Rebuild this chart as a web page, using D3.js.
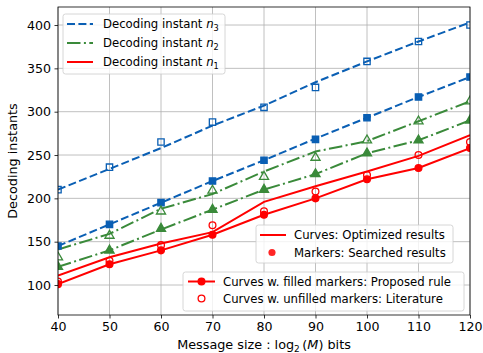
<!DOCTYPE html>
<html>
<head>
<meta charset="utf-8">
<script src="https://cdn.jsdelivr.net/npm/d3@7"></script>
<style>
  body { margin: 0; background: #fff; }
  text { font-family: "DejaVu Sans", sans-serif; fill: #000; }
</style>
</head>
<body>
<svg id="chart" width="483" height="353"></svg>
<script>
// message sizes (bits)
const msgSize = [40, 50, 60, 70, 80, 90, 100, 110, 120];

// n3
const n3PropCurve = [145, 170, 195, 220, 244, 269, 293, 317, 340];
const n3PropMark  = [145, 170, 195, 220, 244, 268, 293, 317, 340];
const n3LitCurve  = [210, 234, 258, 284, 307, 334, 358, 381, 403];
const n3LitMark   = [210, 236, 265, 288, 305, 328, 358, 381, 400];
// n2
const n2PropCurve = [121, 140, 164, 187, 210, 228, 252, 267, 290];
const n2PropMark  = [121, 140, 165, 187, 210, 228, 252, 267, 290];
const n2LitCurve  = [141, 159, 188, 205, 231, 254, 266, 289, 312];
const n2LitMark   = [132, 157, 185, 209, 225, 247, 267, 289, 312];
// n1
const n1PropCurve = [101, 124, 140, 158, 181, 200, 222, 235, 258];
const n1PropMark  = [101, 124, 140, 158, 181, 200, 222, 235, 258];
const n1LitCurve  = [111, 132, 148, 161, 196, 214, 231, 249, 273];
const n1LitMark   = [104, 128, 146, 169, 185, 208, 227, 250, 265];

const xTicks = [40, 50, 60, 70, 80, 90, 100, 110, 120];
const yTicks = [100, 150, 200, 250, 300, 350, 400];

const blue = "#0a5fb4", green = "#3a8a3a", red = "#ff0000";
const tickFont = 12.6, labelFont = 12.8, legFont = 11.7;

const svg = d3.select("#chart");
const pLeft = 58, pRight = 470, pTop = 7, pBottom = 315;

const x = d3.scaleLinear().domain([40, 120]).range([pLeft, pRight]);
const y = d3.scaleLinear().domain([65.4, 420.8]).range([pBottom, pTop]);

svg.append("defs").append("clipPath").attr("id", "plotclip")
   .append("rect").attr("x", pLeft).attr("y", pTop)
   .attr("width", pRight - pLeft).attr("height", pBottom - pTop);

// grid
const grid = svg.append("g");
grid.selectAll(".gx").data(xTicks).enter().append("line")
    .attr("x1", d => x(d)).attr("x2", d => x(d))
    .attr("y1", pTop).attr("y2", pBottom)
    .attr("stroke", "#b0b0b0").attr("stroke-width", 0.8);
grid.selectAll(".gy").data(yTicks).enter().append("line")
    .attr("x1", pLeft).attr("x2", pRight)
    .attr("y1", d => y(d)).attr("y2", d => y(d))
    .attr("stroke", "#b0b0b0").attr("stroke-width", 0.8);

const plot = svg.append("g").attr("clip-path", "url(#plotclip)");

function drawCurve(vals, color, dash) {
	plot.append("path")
		.datum(vals)
		.attr("fill", "none")
		.attr("stroke", color)
		.attr("stroke-width", 2)
		.attr("stroke-dasharray", dash)
		.attr("d", d3.line().x((d, i) => x(msgSize[i])).y(d => y(d)));
}

function drawMarkers(vals, color, shape, filled) {
	const sym = d3.symbol().type(shape).size(shape === d3.symbolTriangle ? 36 : shape === d3.symbolCircle ? 36 : 40);
	plot.selectAll(null)
		.data(vals).enter()
		.append("path")
		.attr("d", sym)
		.attr("transform", (d, i) => `translate(${x(msgSize[i])},${y(d)})`)
		.attr("fill", filled ? color : "none")
		.attr("stroke", color)
		.attr("stroke-width", 1.3);
}

const dashed = "8,3.4", dashdot = "13.5,3.4,2,3.4";

drawCurve(n3LitCurve, blue, dashed);
drawCurve(n3PropCurve, blue, dashed);
drawCurve(n2LitCurve, green, dashdot);
drawCurve(n2PropCurve, green, dashdot);
drawCurve(n1LitCurve, red, null);
drawCurve(n1PropCurve, red, null);

drawMarkers(n3LitMark, blue, d3.symbolSquare, false);
drawMarkers(n3PropMark, blue, d3.symbolSquare, true);
drawMarkers(n2LitMark, green, d3.symbolTriangle, false);
drawMarkers(n2PropMark, green, d3.symbolTriangle, true);
drawMarkers(n1LitMark, red, d3.symbolCircle, false);
drawMarkers(n1PropMark, red, d3.symbolCircle, true);

// axes
const xAxis = d3.axisBottom(x).tickValues(xTicks).tickSize(3.5).tickPadding(4);
const yAxis = d3.axisLeft(y).tickValues(yTicks).tickSize(3.5).tickPadding(3.5);
const gx = svg.append("g").attr("transform", `translate(0,${pBottom})`).call(xAxis);
const gy = svg.append("g").attr("transform", `translate(${pLeft},0)`).call(yAxis);
[gx, gy].forEach(g => {
	g.select(".domain").remove();
	g.selectAll("line").attr("stroke", "#000").attr("stroke-width", 0.8);
	g.selectAll("text").attr("font-size", tickFont).attr("font-family", "DejaVu Sans").attr("fill", "#000");
});
svg.append("rect").attr("x", pLeft).attr("y", pTop)
   .attr("width", pRight - pLeft).attr("height", pBottom - pTop)
   .attr("fill", "none").attr("stroke", "#000").attr("stroke-width", 0.8);

// axis labels
const xl = svg.append("text").attr("x", (pLeft + pRight) / 2).attr("y", 349)
   .attr("text-anchor", "middle").attr("font-size", labelFont);
xl.append("tspan").text("Message size : log");
xl.append("tspan").attr("font-size", labelFont * 0.7).attr("dy", 3).text("2");
xl.append("tspan").attr("dy", -3).text("\u2009(");
xl.append("tspan").attr("font-style", "italic").text("M");
xl.append("tspan").text(") bits");

svg.append("text").attr("transform", `translate(17,${(pTop + pBottom) / 2}) rotate(-90)`)
   .attr("text-anchor", "middle").attr("font-size", labelFont).text("Decoding instants");

// legends
function legendBox(x0, y0, w, h) {
	svg.append("rect").attr("x", x0).attr("y", y0).attr("width", w).attr("height", h)
	   .attr("rx", 2.5).attr("fill", "#fff").attr("fill-opacity", 0.8)
	   .attr("stroke", "#cccccc").attr("stroke-width", 0.8);
}

// legend 1
const leg1 = [
	{ color: blue, dash: dashed, sub: "3", y: 24 },
	{ color: green, dash: dashdot, sub: "2", y: 43 },
	{ color: red, dash: null, sub: "1", y: 62 }
];
legendBox(63, 14, 162, 60);
leg1.forEach(d => {
	svg.append("line").attr("x1", 67).attr("x2", 93).attr("y1", d.y).attr("y2", d.y)
	   .attr("stroke", d.color).attr("stroke-width", 2).attr("stroke-dasharray", d.dash);
	const t = svg.append("text").attr("x", 103).attr("y", d.y + 4.2).attr("font-size", legFont);
	t.append("tspan").text("Decoding instant ");
	t.append("tspan").attr("font-style", "italic").text("n");
	t.append("tspan").attr("font-size", legFont * 0.7).attr("dy", 2.8).text(d.sub);
});

// legend 2
legendBox(256, 225, 197, 38);
svg.append("line").attr("x1", 260).attr("x2", 286).attr("y1", 235).attr("y2", 235)
   .attr("stroke", red).attr("stroke-width", 2);
svg.append("text").attr("x", 294).attr("y", 239.2).attr("font-size", legFont).text("Curves: Optimized results");
svg.append("path").attr("d", d3.symbol().type(d3.symbolCircle).size(40))
   .attr("transform", "translate(272,252.5)").attr("fill", red).attr("fill-opacity", 0.85);
svg.append("text").attr("x", 294).attr("y", 256.7).attr("font-size", legFont).text("Markers: Searched results");

// legend 3
legendBox(183, 272, 281, 39);
svg.append("line").attr("x1", 188).attr("x2", 215).attr("y1", 281.5).attr("y2", 281.5)
   .attr("stroke", red).attr("stroke-width", 2);
svg.append("path").attr("d", d3.symbol().type(d3.symbolCircle).size(36))
   .attr("transform", "translate(201.5,281.5)").attr("fill", red).attr("stroke", red).attr("stroke-width", 1.3);
svg.append("text").attr("x", 223).attr("y", 285.7).attr("font-size", legFont).text("Curves w. filled markers: Proposed rule");
svg.append("path").attr("d", d3.symbol().type(d3.symbolCircle).size(36))
   .attr("transform", "translate(201.5,298.5)").attr("fill", "none").attr("stroke", red).attr("stroke-width", 1.3);
svg.append("text").attr("x", 223).attr("y", 302.7).attr("font-size", legFont).text("Curves w. unfilled markers: Literature");
</script>
</body>
</html>
